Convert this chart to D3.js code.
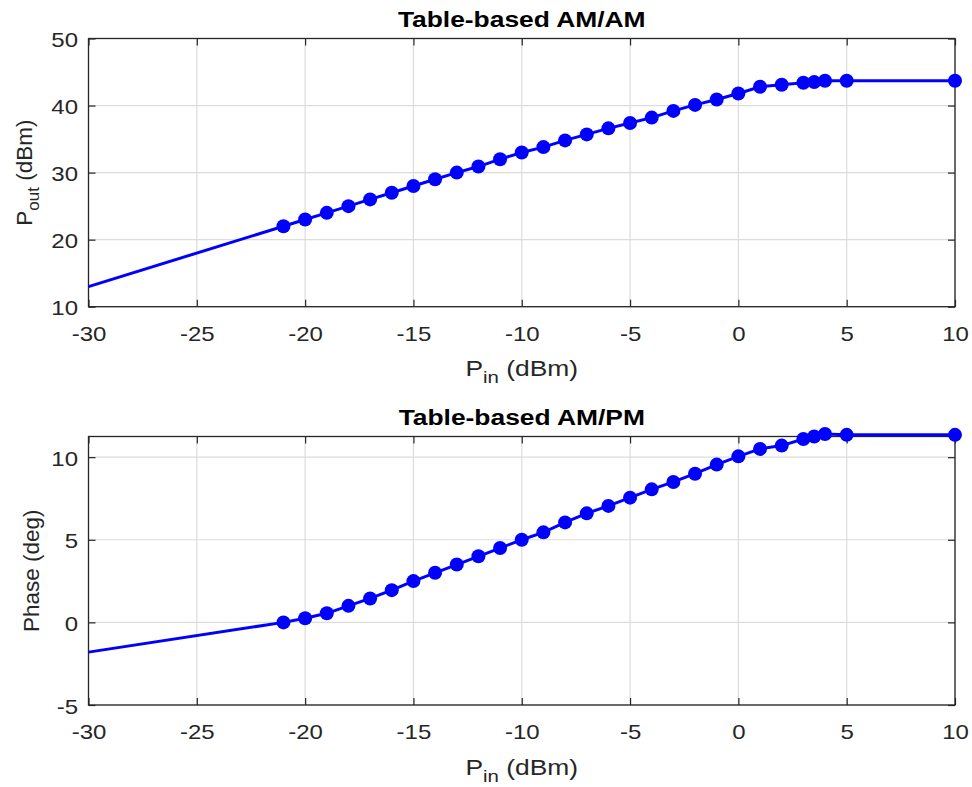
<!DOCTYPE html>
<html><head><meta charset="utf-8">
<script src="https://cdn.jsdelivr.net/npm/d3@7"></script>
<style>
html,body{margin:0;padding:0;background:#fff;}
svg{display:block;}
text{font-family:"Liberation Sans",Arial,Helvetica,sans-serif;fill:#262626;}
</style></head>
<body>
<script>
// ---- data ----
const pinTable = [-21,-20,-19,-18,-17,-16,-15,-14,-13,-12,-11,-10,-9,-8,-7,-6,-5,-4,-3,-2,-1,0,1,2,3,3.5,4,5,10];
const poutTable = [22,23,24,25,26,27,28,29,30,30.9,32,33,33.8,34.8,35.7,36.6,37.4,38.2,39.2,40.1,40.9,41.8,42.8,43.1,43.4,43.5,43.7,43.7,43.7];
const phaseTable = [0,0.25,0.55,1.0,1.45,1.95,2.5,3.0,3.5,4.0,4.5,5.0,5.45,6.05,6.6,7.05,7.55,8.05,8.5,9.0,9.55,10.05,10.5,10.7,11.1,11.25,11.4,11.35,11.35];
// extrapolated start of the curve (no marker)
const pinStart = -30, poutStart = 13, phaseStart = -1.8;
const xTicks = [-30,-25,-20,-15,-10,-5,0,5,10];
const poutTicks = [10,20,30,40,50];
const phaseTicks = [-5,0,5,10];
const titles = ["Table-based AM/AM","Table-based AM/PM"];

const W = 972, H = 787;
const svg = d3.select("body").append("svg").attr("width",W).attr("height",H);

const axesColor = "#262626", gridColor = "#dcdcdc", lineColor = "#0000ff";
const left = 88.5, right = 955;
const SX = 1.2; // horizontal text stretch

function stretch(sel, s){
  sel.each(function(){
    const t = d3.select(this);
    const x = +t.attr("x") || 0, y = +t.attr("y") || 0;
    t.attr("x",0).attr("y",0).attr("transform",`translate(${x},${y}) scale(${s},1)`);
  });
}

function panel(cfg){
  const g = svg.append("g");
  const x = d3.scaleLinear().domain([-30,10]).range([left,right]);
  const y = d3.scaleLinear().domain(cfg.yDomain).range([cfg.bottom,cfg.top]);
  // grid
  g.selectAll(".gx").data(xTicks).enter().append("line")
    .attr("x1",d=>x(d)).attr("x2",d=>x(d)).attr("y1",cfg.top).attr("y2",cfg.bottom)
    .attr("stroke",gridColor).attr("stroke-width",1.2);
  g.selectAll(".gy").data(cfg.yTicks).enter().append("line")
    .attr("y1",d=>y(d)).attr("y2",d=>y(d)).attr("x1",left).attr("x2",right)
    .attr("stroke",gridColor).attr("stroke-width",1.2);
  const tl = 7;
  const fmt = d => String(d);
  const ax = g.append("g").attr("transform",`translate(0,${cfg.bottom})`)
    .call(d3.axisBottom(x).tickValues(xTicks).tickSize(-tl).tickPadding(20).tickFormat(fmt));
  const axT = g.append("g").attr("transform",`translate(0,${cfg.top})`)
    .call(d3.axisTop(x).tickValues(xTicks).tickSize(-tl).tickFormat(""));
  const ay = g.append("g").attr("transform",`translate(${left},0)`)
    .call(d3.axisLeft(y).tickValues(cfg.yTicks).tickSize(-tl).tickPadding(10.5).tickFormat(fmt));
  const ayR = g.append("g").attr("transform",`translate(${right},0)`)
    .call(d3.axisRight(y).tickValues(cfg.yTicks).tickSize(-tl).tickFormat(""));
  [ax,axT,ay,ayR].forEach(a=>{
    a.select(".domain").remove();
    a.selectAll(".tick line").attr("stroke",axesColor).attr("stroke-width",1.2);
    a.selectAll(".tick text").attr("fill",axesColor).style("font-size","20px")
      .style("font-family",'"Liberation Sans",Arial,sans-serif');
  });
  ay.selectAll(".tick text").attr("dy","0.4em");
  stretch(ax.selectAll(".tick text"), SX);
  stretch(ay.selectAll(".tick text"), SX);
  g.append("rect").attr("x",left).attr("y",cfg.top).attr("width",right-left).attr("height",cfg.bottom-cfg.top)
    .attr("fill","none").attr("stroke",axesColor).attr("stroke-width",1.3);
  // curve
  const xs = [pinStart].concat(pinTable);
  const ys = [cfg.start].concat(cfg.values);
  const pts = xs.map((v,i)=>[v,ys[i]]);
  g.append("path").datum(pts)
    .attr("d",d3.line().x(d=>x(d[0])).y(d=>y(d[1])))
    .attr("fill","none").attr("stroke",lineColor).attr("stroke-width",3);
  g.selectAll(".mk").data(pinTable.map((v,i)=>[v,cfg.values[i]])).enter().append("circle")
    .attr("cx",d=>x(d[0])).attr("cy",d=>y(d[1])).attr("r",7)
    .attr("fill",lineColor);
  // title
  g.append("text").attr("transform",`translate(${(left+right)/2},${cfg.top-12}) scale(${SX},1)`)
    .attr("text-anchor","middle").style("font-weight","bold").style("font-size","22px")
    .style("fill","#000").text(cfg.title);
  // x label
  const xl = g.append("text").attr("transform",`translate(${(left+right)/2},${cfg.bottom+69.5}) scale(${SX},1)`)
    .attr("text-anchor","middle").style("font-size","22px");
  xl.append("tspan").text("P");
  xl.append("tspan").attr("dy",7).style("font-size","17px").text("in");
  xl.append("tspan").attr("dy",-7).text(" (dBm)");
  // y label
  const yl = g.append("text").attr("transform",`translate(${cfg.ylx},${(cfg.top+cfg.bottom)/2}) rotate(-90)`)
    .attr("text-anchor","middle").style("font-size","22.5px");
  if(cfg.ySub){
    yl.append("tspan").text("P");
    yl.append("tspan").attr("dy",7).style("font-size","17px").text(cfg.ySub);
    yl.append("tspan").attr("dy",-7).text(" (dBm)");
  } else {
    yl.text(cfg.yLabel);
  }
}

panel({top:38.5,bottom:306.7,yDomain:[10,50],yTicks:poutTicks,values:poutTable,start:poutStart,title:titles[0],ySub:"out",ylx:31.5});
panel({top:436.5,bottom:705,yDomain:[-5,11.25],yTicks:phaseTicks,values:phaseTable,start:phaseStart,title:titles[1],yLabel:"Phase (deg)",ylx:39});
</script>
</body></html>
